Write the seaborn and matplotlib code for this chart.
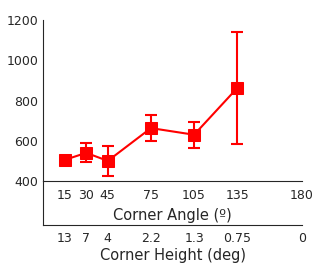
import numpy as np
import pandas as pd
import seaborn as sns
import matplotlib.pyplot as plt
from matplotlib.ticker import MultipleLocator

angles = [15, 30, 45, 75, 105, 135]
means = [505, 540, 500, 663, 630, 862]
errs = [20, 47, 75, 65, 65, 277]
angle_ticks = [15, 30, 45, 75, 105, 135, 180]
height_labels = ["13", "7", "4", "2.2", "1.3", "0.75", "0"]

df = pd.DataFrame({"angle": angles, "rt": means, "err": errs})

sns.set_style("white")
plt.rcParams["font.family"] = ["DejaVu Sans"]
plt.rcParams["text.color"] = "#262626"
plt.rcParams["xtick.color"] = "#262626"
plt.rcParams["ytick.color"] = "#262626"

fig = plt.figure(figsize=(3.34, 2.67), dpi=100)
ax = fig.add_axes([0.129, 0.322, 0.775, 0.603])
ax2 = fig.add_axes([0.129, 0.157, 0.775, 0.165])

sns.lineplot(data=df, x="angle", y="rt", ax=ax, color="red", lw=1.5,
             marker="s", markersize=8, markeredgecolor="red")
ax.errorbar(df["angle"], df["rt"], yerr=df["err"], fmt="none",
            ecolor="red", elinewidth=1.5, capsize=4.5, capthick=1.5)

ax.set_xlim(0, 180)
ax.set_ylim(400, 1200)
ax.set_yticks([400, 600, 800, 1000, 1200])
ax.set_xticks(angle_ticks)
ax.xaxis.set_minor_locator(MultipleLocator(5))
ax.set_xlabel("Corner Angle (º)", fontsize=10.5, labelpad=4)
ax.set_ylabel("")
for s in ["top", "right"]:
    ax.spines[s].set_visible(False)
for s in ["left", "bottom"]:
    ax.spines[s].set_color("#262626")
    ax.spines[s].set_linewidth(0.8)
ax.tick_params(axis="both", which="both", direction="in", labelsize=9)
ax.tick_params(axis="both", which="major", length=3, width=0.8)
ax.tick_params(axis="x", which="minor", length=1.5, width=0.6)
ax.tick_params(axis="x", pad=6)

ax2.set_xlim(0, 180)
ax2.set_ylim(0, 1)
ax2.set_yticks([])
ax2.set_xticks(angle_ticks)
ax2.set_xticklabels(height_labels)
ax2.xaxis.set_minor_locator(MultipleLocator(5))
ax2.set_xlabel("Corner Height (deg)", fontsize=10.5, labelpad=2)
ax2.patch.set_alpha(0)
for s in ["top", "right"]:
    ax2.spines[s].set_visible(False)
for s in ["left", "bottom"]:
    ax2.spines[s].set_color("#262626")
    ax2.spines[s].set_linewidth(0.8)
ax2.tick_params(axis="x", which="both", direction="in", labelsize=9, pad=5)
ax2.tick_params(axis="x", which="major", length=3, width=0.8)
ax2.tick_params(axis="x", which="minor", length=1.5, width=0.6)

fig.savefig("out.png", dpi=100)
